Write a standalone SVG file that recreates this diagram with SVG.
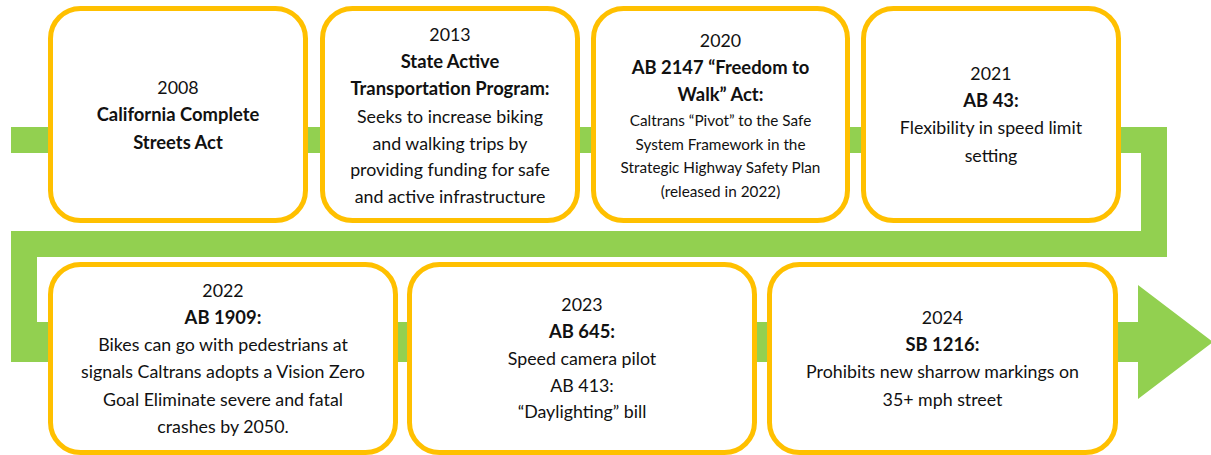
<svg xmlns="http://www.w3.org/2000/svg" width="1211" height="455" viewBox="0 0 1211 455">
  <style>
    .box { fill: #ffffff; stroke: #FFC000; stroke-width: 5; }
    .t { font-family: Lato, "Noto Sans", sans-serif; font-size: 17.8px; fill: #111111; text-anchor: middle; }
    .b { font-weight: bold; font-size: 18.4px; }
    .s { font-size: 15.3px; }
  </style>
  <rect width="1211" height="455" fill="#ffffff"/>

  <!-- serpentine timeline band ending in an arrowhead -->
  <g id="connectors">
    <polygon fill="#92D050" points="11,127 1167,127 1167,257 37,257 37,322 1138,322 1138,285 1213,342 1138,399 1138,362 11,362 11,231 1141,231 1141,153 11,153"/>
  </g>

  <g id="node-2008">
    <rect class="box" x="50.5" y="8.5" width="255" height="212" rx="30"/>
    <text class="t" x="178" y="94">2008</text>
    <text class="t b" x="178" y="121">California Complete</text>
    <text class="t b" x="178" y="149">Streets Act</text>
  </g>

  <g id="node-2013">
    <rect class="box" x="322.5" y="8.5" width="255" height="212" rx="30"/>
    <text class="t" x="450" y="41">2013</text>
    <text class="t b" x="450" y="68">State Active</text>
    <text class="t b" x="450" y="95">Transportation Program:</text>
    <text class="t" x="450" y="123">Seeks to increase biking</text>
    <text class="t" x="450" y="150">and walking trips by</text>
    <text class="t" x="450" y="176">providing funding for safe</text>
    <text class="t" x="450" y="203">and active infrastructure</text>
  </g>

  <g id="node-2020">
    <rect class="box" x="593.5" y="8.5" width="254" height="212" rx="30"/>
    <text class="t" x="720.5" y="47">2020</text>
    <text class="t b" x="720.5" y="74">AB 2147 “Freedom to</text>
    <text class="t b" x="720.5" y="101">Walk” Act:</text>
    <text class="t s" x="720.5" y="126">Caltrans “Pivot” to the Safe</text>
    <text class="t s" x="720.5" y="150">System Framework in the</text>
    <text class="t s" x="720.5" y="173">Strategic Highway Safety Plan</text>
    <text class="t s" x="720.5" y="197">(released in 2022)</text>
  </g>

  <g id="node-2021">
    <rect class="box" x="863.5" y="8.5" width="255" height="212" rx="30"/>
    <text class="t" x="991" y="80">2021</text>
    <text class="t b" x="991" y="107">AB 43:</text>
    <text class="t" x="991" y="134">Flexibility in speed limit</text>
    <text class="t" x="991" y="162">setting</text>
  </g>

  <g id="node-2022">
    <rect class="box" x="50.5" y="264.5" width="345" height="188" rx="30"/>
    <text class="t" x="223" y="297">2022</text>
    <text class="t b" x="223" y="324">AB 1909:</text>
    <text class="t" x="223" y="351">Bikes can go with pedestrians at</text>
    <text class="t" x="223" y="378">signals Caltrans adopts a Vision Zero</text>
    <text class="t" x="223" y="406">Goal Eliminate severe and fatal</text>
    <text class="t" x="223" y="433">crashes by 2050.</text>
  </g>

  <g id="node-2023">
    <rect class="box" x="409.5" y="264.5" width="345" height="188" rx="30"/>
    <text class="t" x="582" y="311">2023</text>
    <text class="t b" x="582" y="338">AB 645:</text>
    <text class="t" x="582" y="365">Speed camera pilot</text>
    <text class="t" x="582" y="392">AB 413:</text>
    <text class="t" x="582" y="418">“Daylighting” bill</text>
  </g>

  <g id="node-2024">
    <rect class="box" x="769.5" y="264.5" width="346" height="188" rx="30"/>
    <text class="t" x="942.5" y="324">2024</text>
    <text class="t b" x="942.5" y="351">SB 1216:</text>
    <text class="t" x="942.5" y="378">Prohibits new sharrow markings on</text>
    <text class="t" x="942.5" y="406">35+ mph street</text>
  </g>
</svg>
